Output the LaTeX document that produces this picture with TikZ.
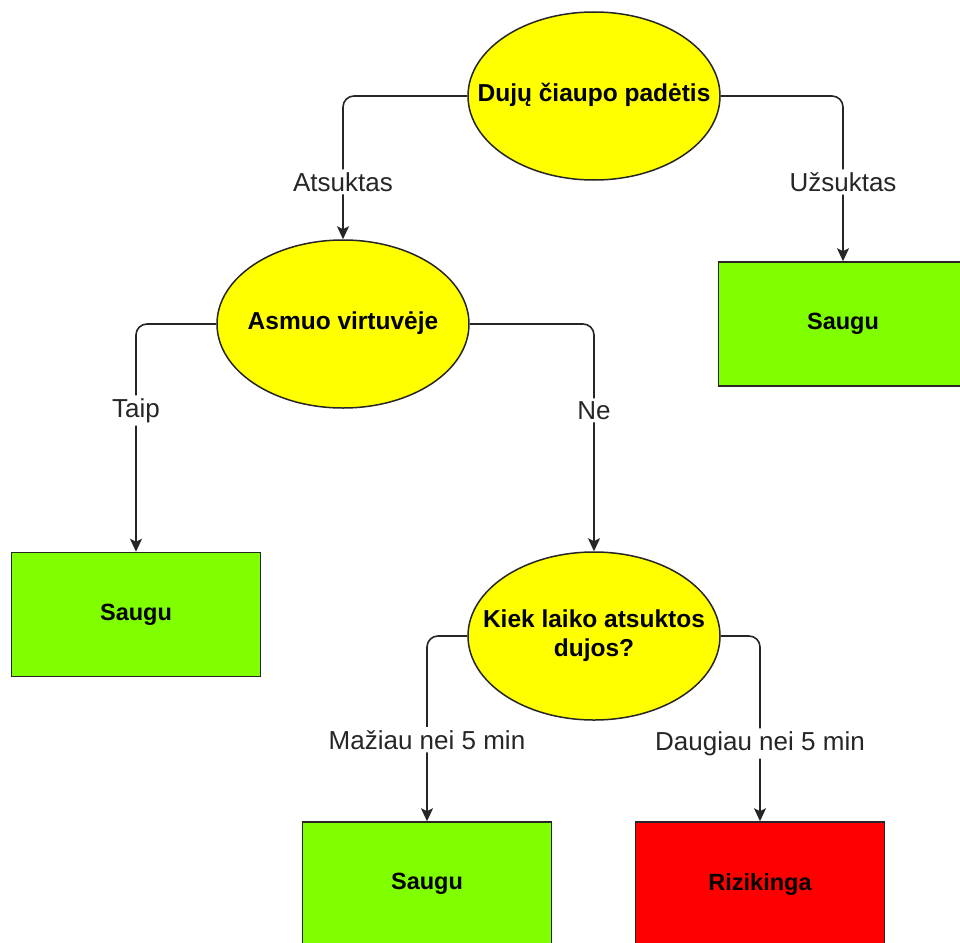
\documentclass[tikz,border=0pt]{standalone}
\usepackage{fontspec}
\setmainfont{Liberation Sans}
\usetikzlibrary{arrows.meta,shapes.geometric}
\definecolor{qyellow}{HTML}{FFFF00}
\definecolor{safegreen}{HTML}{80FF00}
\definecolor{riskred}{HTML}{FF0000}
% zero-width centred text block, so the ellipse keeps its fixed size
\newcommand\ellipsetext[1]{\makebox[0pt]{\begin{tabular}{@{}c@{}}#1\end{tabular}}}
\begin{document}
\begin{tikzpicture}[x=1pt,y=-1pt,
  question/.style={ellipse, draw=black!85, line width=1.5pt, fill=qyellow,
    minimum width=252pt, minimum height=168pt, inner sep=0pt,
    font=\bfseries\fontsize{24.5}{29}\selectfont},
  outcome/.style={rectangle, draw=black!85, line width=1.5pt,
    minimum width=249pt, minimum height=124pt, inner sep=0pt,
    font=\bfseries\fontsize{23.5}{28}\selectfont},
  conn/.style={draw=black!85, line width=1.6pt, rounded corners=11pt,
    -{Stealth[length=13pt,width=12pt,inset=3pt]}},
  lbl/.style={fill=white, inner sep=3pt, text=black!85,
    font=\fontsize{26}{30}\selectfont}
]
\clip (0,0) rectangle (960,942);
\fill[white] (0,0) rectangle (960,942);

% decision nodes
\node[question] (q1) at (594,96) {\ellipsetext{Dujų čiaupo padėtis}};
\node[question] (q2) at (343,324) {\ellipsetext{Asmuo virtuvėje}};
\node[question] (q3) at (594,636) {\ellipsetext{Kiek laiko atsuktos\\dujos?}};

% outcomes
\node[outcome, fill=safegreen] (s1) at (136,614.5) {Saugu};
\node[outcome, fill=safegreen] (s2) at (843,324) {Saugu};
\node[outcome, fill=safegreen] (s3) at (427,884) {Saugu};
\node[outcome, fill=riskred] (r1) at (760,884) {Rizikinga};

% branches
\draw[conn] (q1.west) -| node[lbl, pos=0.80] {Atsuktas} (q2.north);
\draw[conn] (q1.east) -| node[lbl, pos=0.76] {Užsuktas} (s2.north);
\draw[conn] (q2.west) -| node[lbl, pos=0.69] {Taip} (s1.north);
\draw[conn] (q2.east) -| node[lbl, pos=0.69] {Ne} (q3.north);
\draw[conn] (q3.west) -| node[lbl, pos=0.78] {Mažiau nei 5 min} (s3.north);
\draw[conn] (q3.east) -| node[lbl, pos=0.79] {Daugiau nei 5 min} (r1.north);
\end{tikzpicture}
\end{document}
